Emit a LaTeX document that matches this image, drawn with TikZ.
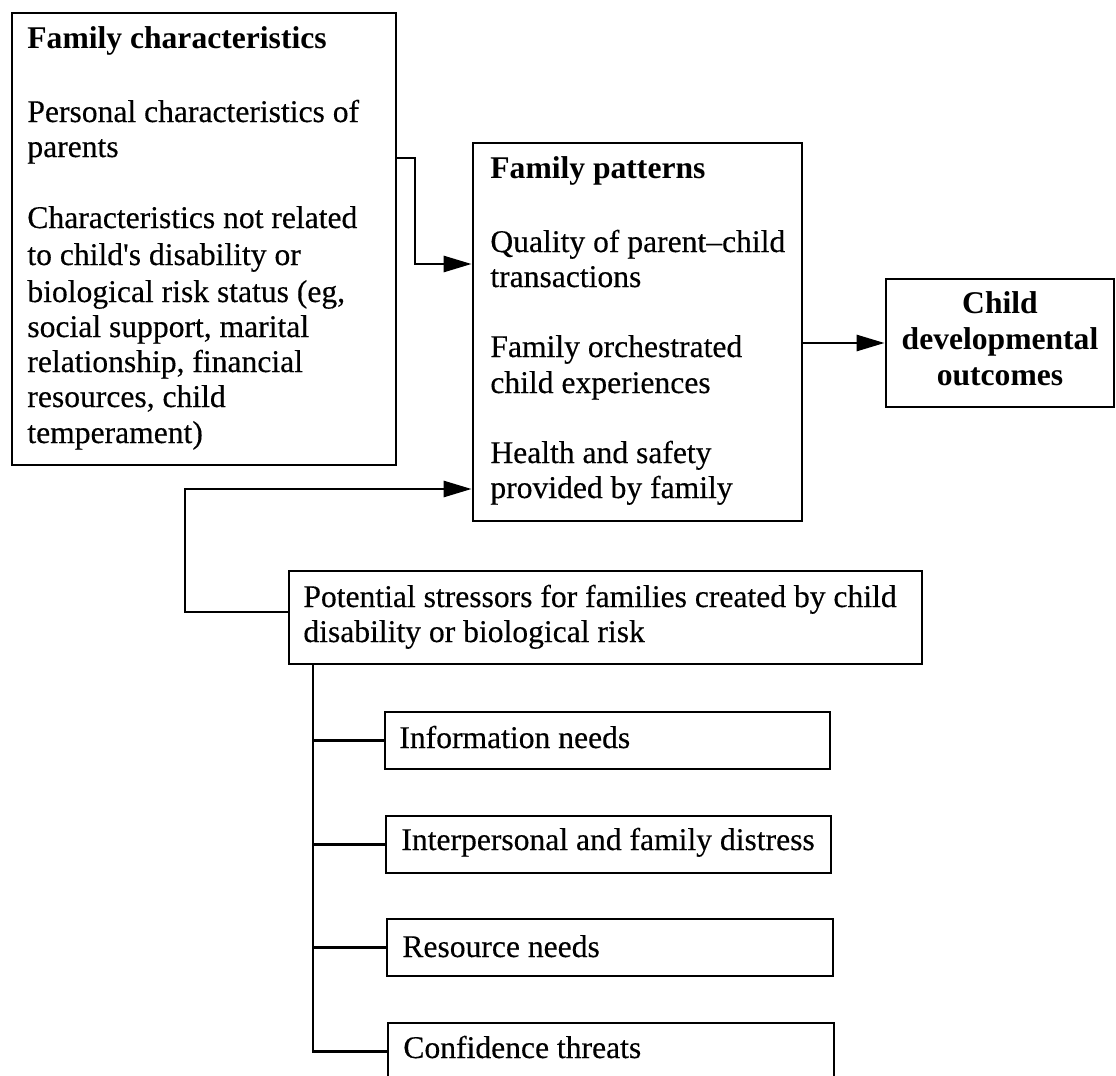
\documentclass[tikz,border=0pt]{standalone}
\usepackage{fontspec}
\setmainfont{Liberation Serif}
\newfontfamily\medfont{Liberation Serif}[FakeBold=0.35]
\usetikzlibrary{arrows.meta,fit}
\begin{document}
\begin{tikzpicture}[x=0.5pt,y=-0.5pt,
  box/.style={draw, line width=1.4pt, inner sep=0pt, rectangle},
  txt/.style={anchor=base west, inner sep=0pt, font=\fontsize{15.8}{18}\selectfont\medfont},
  btxt/.style={anchor=base west, inner sep=0pt, font=\fontsize{15.8}{18}\selectfont\bfseries},
  ctxt/.style={anchor=base, inner sep=0pt, font=\fontsize{15.8}{18}\selectfont\bfseries},
  ln/.style={line width=1.4pt},
  arr/.style={line width=1.4pt, -{Triangle[length=14pt,width=8pt]}}
]
\fill[white] (0,0) rectangle (1116,1076);
\clip (0,0) rectangle (1116,1076);

% boxes
\node[box, fit={(12,13) (396,465)}] (A) {};
\node[box, fit={(473,143) (802,521)}] (B) {};
\node[box, fit={(886,279) (1114,407)}] (D) {};
\node[box, fit={(289,571) (922,664)}] (C) {};
\node[box, fit={(385,712) (830,769)}] (S1) {};
\node[box, fit={(386,816) (831,873)}] (S2) {};
\node[box, fit={(387,919) (833,976)}] (S3) {};
\node[box, fit={(388,1023) (834,1080)}] (S4) {};

% texts box A
\node[btxt] (a0) at (27,48) {Family characteristics};
\node[txt] (a1) at (27,122) {Personal characteristics of};
\node[txt] (a2) at (27,157) {parents};
\node[txt] (a3) at (27,228) {Characteristics not related};
\node[txt] (a4) at (27,265) {to child's disability or};
\node[txt] (a5) at (27,302) {biological risk status (eg,};
\node[txt] (a6) at (27,337) {social support, marital};
\node[txt] (a7) at (27,372) {relationship, financial};
\node[txt] (a8) at (27,407) {resources, child};
\node[txt] (a9) at (27,443) {temperament)};

% texts box B
\node[btxt] (b0) at (490,178) {Family patterns};
\node[txt] (b1) at (490,252) {Quality of parent–child};
\node[txt] (b2) at (490,287) {transactions};
\node[txt] (b3) at (490,357) {Family orchestrated};
\node[txt] (b4) at (490,393) {child experiences};
\node[txt] (b5) at (490,463) {Health and safety};
\node[txt] (b6) at (490,498) {provided by family};

% texts box D
\node[ctxt] (d1) at (1000,313) {Child};
\node[ctxt] (d2) at (1000,349) {developmental};
\node[ctxt] (d3) at (1000,385) {outcomes};

% texts box C
\node[txt] (c1) at (303,607) {Potential stressors for families created by child};
\node[txt] (c2) at (303,642) {disability or biological risk};

% small boxes
\node[txt] (s1) at (399,748) {Information needs};
\node[txt] (s2) at (401,850) {Interpersonal and family distress};
\node[txt] (s3) at (402,957) {Resource needs};
\node[txt] (s4) at (403,1058) {Confidence threats};

% connectors
\coordinate (ab1) at (415,158);
\coordinate (ab2) at (415,264);
\draw[arr] (A.east |- ab1) -- (ab1) -- (ab2) -- (B.west |- ab2);

\draw[arr] (B.east |- D.west) -- (D.west);

\coordinate (cb1) at (185,612);
\coordinate (cb2) at (185,489);
\draw[arr] (C.west |- cb1) -- (cb1) -- (cb2) -- (B.west |- cb2);

\coordinate (trunk) at (313,664);
\draw[ln] (trunk) -- (trunk |- S4.west) -- (S4.west);
\draw[ln] (trunk |- S1.west) -- (S1.west);
\draw[ln] (trunk |- S2.west) -- (S2.west);
\draw[ln] (trunk |- S3.west) -- (S3.west);
\end{tikzpicture}
\end{document}
